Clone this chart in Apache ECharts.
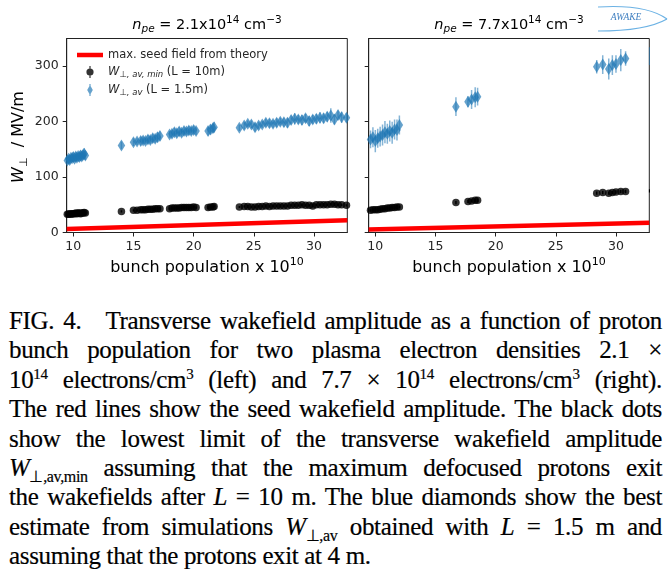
<!DOCTYPE html>
<html><head><meta charset="utf-8">
<script src="https://cdn.jsdelivr.net/npm/echarts@6/dist/echarts.min.js"></script>
<style>
html,body{margin:0;padding:0;background:#fff;width:671px;height:579px;overflow:hidden;}
#chart{position:absolute;left:0;top:0;width:671px;height:300px;}
#cap{position:absolute;left:9px;top:306px;width:653px;font-family:"Liberation Serif","Times New Roman",serif;font-size:25px;letter-spacing:-0.35px;line-height:29.4px;color:#000;-webkit-text-stroke:0.2px #000;}
#cap .ln{white-space:nowrap;height:29.4px;}
#cap .in{display:inline-block;white-space:nowrap;}
#cap i{font-style:italic;}
#cap .sub{font-size:16px;position:relative;top:6px;}
#cap .sup{font-size:15px;position:relative;top:-9px;}
#cap .gap{display:inline-block;width:24px;}
</style></head><body>
<div id="chart"></div>
<div id="cap">
<div class="ln"><span class="in">FIG. 4.<span class="gap"></span>Transverse wakefield amplitude as a function of proton</span></div>
<div class="ln"><span class="in">bunch population for two plasma electron densities 2.1 ×</span></div>
<div class="ln"><span class="in">10<span class="sup">14</span> electrons/cm<span class="sup">3</span> (left) and 7.7 × 10<span class="sup">14</span> electrons/cm<span class="sup">3</span> (right).</span></div>
<div class="ln"><span class="in">The red lines show the seed wakefield amplitude. The black dots</span></div>
<div class="ln"><span class="in">show the lowest limit of the transverse wakefield amplitude</span></div>
<div class="ln"><span class="in"><i>W</i><span class="sub">⊥,av,min</span> assuming that the maximum defocused protons exit</span></div>
<div class="ln"><span class="in">the wakefields after <i>L</i> = 10 m. The blue diamonds show the best</span></div>
<div class="ln"><span class="in">estimate from simulations <i>W</i><span class="sub">⊥,av</span> obtained with <i>L</i> = 1.5 m and</span></div>
<div class="ln last"><span class="in">assuming that the protons exit at 4 m.</span></div>
</div>
<script>
// ---- data ----
const xTicks = [10, 15, 20, 25, 30];
const yTicks = [0, 100, 200, 300];

const leftX = [9.5,9.6,9.7,9.8,9.9,10.0,10.1,10.2,10.3,10.4,10.5,10.6,10.7,10.8,10.9,11.0,
  14.0,
  15.0,15.3,15.6,15.8,16.0,16.2,16.4,16.6,16.8,17.0,17.2,
  18.0,18.2,18.4,18.6,18.8,19.0,19.2,19.4,19.6,19.8,20.0,20.2,
  21.2,21.4,21.6,21.7,
  23.8,24.2,24.5,24.8,25.1,25.4,25.7,26.0,26.3,26.6,26.9,27.2,27.5,27.8,28.1,28.4,28.7,29.0,29.3,29.6,29.9,30.2,30.5,30.8,31.1,31.4,31.7,32.0,32.3,32.7];
const leftMinY = [33,33,34,33,34,34,34,35,34,35,35,34,35,35,36,35,
  38,
  40,40,41,41,41,42,42,42,43,43,43,
  43,44,44,44,44,45,45,45,45,45,46,45,
  45,46,46,47,
  46,47,47,46,46,47,47,48,47,48,48,48,48,48,49,49,49,50,49,49,48,50,50,50,50,51,51,50,50,49];
const leftMinErr = [2,2,2,2,3,2,2,2,2,3,2,2,2,2,3,2,
  2,
  2,2,2,2,3,2,2,2,2,2,3,
  2,2,2,3,2,2,2,2,3,2,2,2,
  3,2,2,2,
  2,2,3,2,2,2,2,3,2,2,2,3,2,2,2,3,2,2,2,2,3,2,2,3,2,2,3,2,2,2];
const leftAvY = [130,133,131,135,134,136,133,137,135,138,136,139,137,140,142,139,
  157,
  163,164,165,166,165,168,167,170,169,172,174,
  177,178,181,179,182,180,183,182,184,183,185,183,
  183,186,188,190,
  189,193,196,195,190,193,195,198,197,196,198,200,199,198,203,205,204,203,206,201,204,205,207,206,209,211,204,212,208,207];
const leftAvErr = [6,7,8,6,7,9,6,8,7,7,8,9,7,8,10,8,
  7,
  7,6,8,7,6,8,7,8,7,9,8,
  6,7,8,7,8,7,8,7,8,7,8,7,
  8,9,8,9,
  6,7,6,7,8,7,6,7,8,7,8,7,8,9,8,10,8,9,8,9,8,9,10,9,9,13,9,8,10,8];

const rightX = [9.6,9.8,10.0,10.2,10.4,10.6,10.8,11.0,11.2,11.4,11.6,11.8,12.0,
  16.7,17.7,18.0,18.3,18.5,
  28.4,28.9,29.4,29.7,30.0,30.4,30.8,32.8];
const rightMinY = [40,41,41,41,42,43,43,44,44,45,45,46,46,
  54,56,57,58,58,
  71,72,71,72,73,74,74,75];
const rightMinErr = [2,2,3,2,2,3,2,2,3,2,2,3,2,
  3,3,3,3,3,
  3,3,3,3,3,3,3,3];
const rightAvY = [168,172,165,170,173,176,181,178,183,180,186,185,194,
  227,236,240,244,245,
  299,303,295,302,304,311,314,318];
const rightAvErr = [16,18,20,17,18,19,20,18,19,20,18,19,17,
  17,10,17,18,16,
  12,17,19,18,16,20,13,16];

const seedX = [9.45, 32.77];
const seedLeftY = [6.3, 22.0];
const seedRightY = [5.2, 17.5];

// ---- chart ----
const FONT = 'DejaVu Sans';
const TXT = '#262626';
const BLUE = 'rgba(31,119,180,0.85)';
const BLUE_ERR = 'rgba(31,119,180,0.55)';
const chart = echarts.init(document.getElementById('chart'), null, {renderer: 'canvas'});

const zip = (xs, ys, es) => xs.map((x, i) => es ? [x, ys[i], es[i]] : [x, ys[i]]);

function errSeries(name, xi, xs, ys, es, color) {
  return {
    name: name, type: 'custom', xAxisIndex: xi, yAxisIndex: xi, clip: true, silent: true,
    data: zip(xs, ys, es), encode: {x: 0, y: 1},
    renderItem: function (params, api) {
      const x = api.value(0), y = api.value(1), e = api.value(2);
      const p1 = api.coord([x, y - e]);
      const p2 = api.coord([x, y + e]);
      return {type: 'line', shape: {x1: p1[0], y1: p1[1], x2: p2[0], y2: p2[1]},
        style: {stroke: color, lineWidth: 1.5}};
    }
  };
}

const grids = [
  {left: 66.7, top: 38.5, width: 280.6, height: 194, show: true, borderColor: '#222', borderWidth: 1, backgroundColor: 'transparent'},
  {left: 368.7, top: 38.5, width: 280.6, height: 194, show: true, borderColor: '#222', borderWidth: 1, backgroundColor: 'transparent'}
];

function xAxis(i) {
  return {
    type: 'value', gridIndex: i, min: 9.45, max: 32.77,
    axisLine: {show: true, onZero: false, lineStyle: {color: '#222', width: 1}},
    axisTick: {show: true, length: 4, customValues: xTicks, lineStyle: {color: '#222'}},
    axisLabel: {customValues: xTicks, margin: 8, fontFamily: FONT, fontSize: 12.5, color: TXT},
    splitLine: {show: false}
  };
}
function yAxis(i, labels) {
  return {
    type: 'value', gridIndex: i, min: 0, max: 350,
    axisLine: {show: true, onZero: false, lineStyle: {color: '#222', width: 1}},
    axisTick: {show: true, length: 4, customValues: yTicks, lineStyle: {color: '#222'}},
    axisLabel: {show: labels, customValues: yTicks, margin: 8, fontFamily: FONT, fontSize: 12.5, color: TXT},
    splitLine: {show: false}
  };
}

const titleRich = {
  t: {fontFamily: FONT, fontSize: 14.5, color: TXT, lineHeight: 20},
  i: {fontFamily: FONT, fontStyle: 'italic', fontSize: 14.5, color: TXT, lineHeight: 20},
  isub: {fontFamily: FONT, fontStyle: 'italic', fontSize: 10.5, color: TXT, lineHeight: 12, verticalAlign: 'bottom'},
  sup: {fontFamily: FONT, fontSize: 10.5, color: TXT, lineHeight: 9, verticalAlign: 'top'}
};
const axRich = {
  t: {fontFamily: FONT, fontSize: 16, color: TXT, lineHeight: 21},
  w: {fontFamily: FONT, fontStyle: 'italic', fontSize: 16, color: TXT, lineHeight: 21},
  s: {fontFamily: FONT, fontSize: 11, color: TXT, lineHeight: 12, verticalAlign: 'bottom'},
  sup: {fontFamily: FONT, fontSize: 11, color: TXT, lineHeight: 9, verticalAlign: 'top'}
};

function txt(text, x, y, rich, rot) {
  return {type: 'text', x: x, y: y, rotation: rot || 0, silent: true,
    style: {text: text, rich: rich, align: 'center', verticalAlign: 'middle'}};
}

const legendText = {
  seed: '{t|max. seed field from theory}',
  min: '{w|W}{s|⊥, av, min}{t| (L = 10m)}',
  av: '{w|W}{s|⊥, av}{t| (L = 1.5m)}'
};

const option = {
  animation: false,
  backgroundColor: '#fff',
  grid: grids,
  xAxis: [xAxis(0), xAxis(1)],
  yAxis: [yAxis(0, true), yAxis(1, false)],
  legend: {
    orient: 'vertical', left: 77, top: 49, padding: 0, itemWidth: 26, itemHeight: 12, itemGap: 5,
    selectedMode: false,
    data: [
      {name: 'seed', icon: 'path://M0,0H26V4.5H0Z'},
      {name: 'min', icon: 'path://M-0.6,-6H0.6V6H-0.6Z M0,-3.6A3.6,3.6,0,1,1,0,3.6A3.6,3.6,0,1,1,0,-3.6Z'},
      {name: 'av', icon: 'path://M-0.6,-6H0.6V6H-0.6Z M0,-5L2.8,0L0,5L-2.8,0Z'}
    ],
    formatter: function (name) { return legendText[name]; },
    textStyle: {fontFamily: FONT, fontSize: 11.5, color: TXT, rich: {
      t: {fontFamily: FONT, fontSize: 11.5, color: TXT, lineHeight: 14},
      w: {fontFamily: FONT, fontStyle: 'italic', fontSize: 11.5, color: TXT, lineHeight: 14},
      s: {fontFamily: FONT, fontStyle: 'italic', fontSize: 8.5, color: TXT, lineHeight: 10, verticalAlign: 'bottom'}
    }}
  },
  graphic: [
    txt('{i|n}{isub|pe}{t| = 2.1x10}{sup|14}{t| cm}{sup|−3}', 207, 25, titleRich),
    txt('{i|n}{isub|pe}{t| = 7.7x10}{sup|14}{t| cm}{sup|−3}', 509, 25, titleRich),
    txt('{t|bunch population x 10}{sup|10}', 207, 267.5, axRich),
    txt('{t|bunch population x 10}{sup|10}', 509, 267.5, axRich),
    txt('{w|W}{s|⊥}{t|  / MV/m}', 19, 137, axRich, Math.PI / 2),
    {type: 'bezierCurve', silent: true, shape: {x1: 598, y1: 7, cpx1: 646, cpy1: 4, x2: 667, y2: 19},
      style: {fill: null, stroke: '#6cb2e4', lineWidth: 1.2}},
    {type: 'bezierCurve', silent: true, shape: {x1: 667, y1: 19, cpx1: 646, cpy1: 31, x2: 598, y2: 31},
      style: {fill: null, stroke: '#6cb2e4', lineWidth: 1.2}},
    {type: 'text', x: 626, y: 17, silent: true, style: {text: 'AWAKE', align: 'center', verticalAlign: 'middle',
      fontFamily: 'Liberation Serif', fontStyle: 'italic', fontSize: 9.5, fill: '#3f7fc0', backgroundColor: 'rgba(255,255,255,0.6)'}}
  ],
  series: [
    {name: 'seed', type: 'line', xAxisIndex: 0, yAxisIndex: 0, data: zip(seedX, seedLeftY), symbol: 'none',
      lineStyle: {color: '#ff0000', width: 4.5}, itemStyle: {color: '#ff0000'}, clip: true, silent: true},
    errSeries('avErrL', 0, leftX, leftAvY, leftAvErr, BLUE_ERR),
    {name: 'av', type: 'scatter', xAxisIndex: 0, yAxisIndex: 0, data: zip(leftX, leftAvY), symbol: 'diamond',
      symbolSize: [7.5, 12], itemStyle: {color: BLUE}, silent: true},
    errSeries('minErrL', 0, leftX, leftMinY, leftMinErr, '#000'),
    {name: 'min', type: 'scatter', xAxisIndex: 0, yAxisIndex: 0, data: zip(leftX, leftMinY), symbol: 'circle',
      symbolSize: 7.5, itemStyle: {color: '#000'}, silent: true},

    {name: 'seed', type: 'line', xAxisIndex: 1, yAxisIndex: 1, data: zip(seedX, seedRightY), symbol: 'none',
      lineStyle: {color: '#ff0000', width: 4.5}, itemStyle: {color: '#ff0000'}, clip: true, silent: true},
    errSeries('avErrR', 1, rightX, rightAvY, rightAvErr, BLUE_ERR),
    {name: 'av', type: 'scatter', xAxisIndex: 1, yAxisIndex: 1, data: zip(rightX, rightAvY), symbol: 'diamond',
      symbolSize: [7.5, 12], itemStyle: {color: BLUE}, silent: true},
    errSeries('minErrR', 1, rightX, rightMinY, rightMinErr, '#000'),
    {name: 'min', type: 'scatter', xAxisIndex: 1, yAxisIndex: 1, data: zip(rightX, rightMinY), symbol: 'circle',
      symbolSize: 7.5, itemStyle: {color: '#000'}, silent: true}
  ]
};
chart.setOption(option);

// justify caption lines
const W = 653;
document.querySelectorAll('#cap .ln').forEach(function (ln) {
  if (ln.classList.contains('last')) return;
  const inner = ln.querySelector('.in');
  const w = inner.getBoundingClientRect().width;
  const n = (inner.textContent.match(/ /g) || []).length;
  if (n > 0) inner.style.wordSpacing = ((W - w) / n) + 'px';
});
</script>
</body></html>
